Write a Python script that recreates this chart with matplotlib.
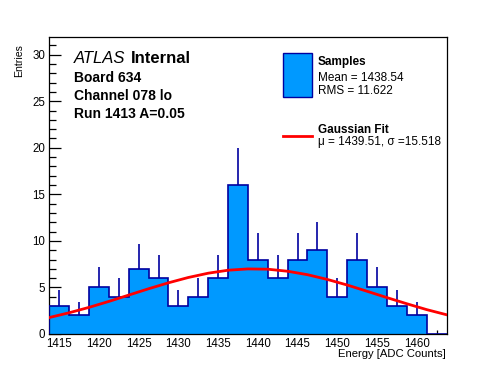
import numpy as np
import matplotlib.pyplot as plt
from matplotlib.patches import Rectangle
from matplotlib.lines import Line2D
from matplotlib.ticker import MultipleLocator

# histogram: 20 bins of 2.5 ADC counts
bin_edges = [1413.75 + 2.5 * i for i in range(21)]
counts = [3, 2, 5, 4, 7, 6, 3, 4, 6, 16, 8, 6, 8, 9, 4, 8, 5, 3, 2, 0]

# gaussian fit curve
fit_x = [1413.75, 1416.25, 1418.75, 1421.25, 1423.75, 1426.25, 1428.75,
         1431.25, 1433.75, 1436.25, 1438.75, 1441.25, 1443.75, 1446.25,
         1448.75, 1451.25, 1453.75, 1456.25, 1458.75, 1461.25, 1463.75]
fit_y = [1.77, 2.28, 2.86, 3.50, 4.18, 4.86, 5.50, 6.07, 6.53, 6.85, 6.99,
         6.96, 6.74, 6.37, 5.86, 5.26, 4.59, 3.91, 3.25, 2.62, 2.07]

x_ticks = [1415, 1420, 1425, 1430, 1435, 1440, 1445, 1450, 1455, 1460]
y_ticks = [0, 5, 10, 15, 20, 25, 30]

FILL = "#0099ff"
EDGE = "#0000a0"
RED = "#ff0000"

plt.rcParams["font.family"] = ["Liberation Sans", "DejaVu Sans"]

W, H = 496, 372
fig = plt.figure(figsize=(W / 100, H / 100), dpi=100)
ax = fig.add_axes([49.3 / W, 1 - 334 / H, (446.5 - 49.3) / W, (334 - 37) / H])

edges = np.array(bin_edges)
n = np.array(counts, dtype=float)
centers = edges[:-1] + 1.25
err = np.sqrt(n)
has = n > 0

ax.vlines(centers[has], (n - err)[has], (n + err)[has], color=EDGE, lw=1.2, zorder=1)
ax.stairs(n, edges, fill=True, facecolor=FILL, edgecolor="none", zorder=2)
ax.stairs(n, edges, baseline=0, fill=False, edgecolor=EDGE, lw=1.2, zorder=3)
ax.plot(fit_x, fit_y, color=RED, lw=2, zorder=4)

ax.set_xlim(1413.75, 1463.75)
ax.set_ylim(0, 31.9)
ax.set_xticks(x_ticks)
ax.set_yticks(y_ticks)
ax.xaxis.set_minor_locator(MultipleLocator(2.5))
ax.yaxis.set_minor_locator(MultipleLocator(1))
ax.tick_params(which="both", direction="in", top=False, right=False,
               labelsize=8.3, width=0.9)
ax.tick_params(axis="x", which="major", length=6.5, pad=3)
ax.tick_params(axis="x", which="minor", length=3.2)
ax.tick_params(axis="y", which="major", length=8.4, pad=3)
ax.tick_params(axis="y", which="minor", length=4.8)
for s in ax.spines.values():
    s.set_linewidth(0.9)

fig.text(446 / W, 1 - 357 / H, "Energy [ADC Counts]", ha="right",
         va="baseline", fontsize=8.1)
fig.text(19.5 / W, 1 - 44 / H, "Entries", rotation=90, ha="center", va="top",
         fontsize=7.6)

# ATLAS label block
t = fig.text(74 / W, 1 - 63 / H, "ATLAS", style="italic", fontsize=12,
             va="baseline")
fig.canvas.draw()
bb = t.get_window_extent()
fig.text((bb.x1 + 5) / W, 1 - 63 / H, "Internal", weight="bold",
         fontsize=12, va="baseline")
for yy, s in [(81.5, "Board 634"), (99.5, "Channel 078 lo"), (117.5, "Run 1413 A=0.05")]:
    fig.text(74 / W, 1 - yy / H, s, weight="bold", fontsize=10, va="baseline")

# legend
fig.add_artist(Rectangle((283.3 / W, 1 - 96.7 / H), 28.4 / W, 43.4 / H,
                         transform=fig.transFigure, facecolor=FILL,
                         edgecolor=EDGE, lw=1.0))
fig.add_artist(Line2D([283 / W, 311.5 / W], [1 - 136 / H, 1 - 136 / H],
                      transform=fig.transFigure, color=RED, lw=2))
fig.text(317.7 / W, 1 - 65 / H, "Samples", weight="bold", fontsize=8.5, va="baseline")
fig.text(317.7 / W, 1 - 80.7 / H, "Mean = 1438.54", fontsize=8.5, va="baseline")
fig.text(317.7 / W, 1 - 94.3 / H, "RMS = 11.622", fontsize=8.5, va="baseline")
fig.text(317.7 / W, 1 - 132.7 / H, "Gaussian Fit", weight="bold", fontsize=8.5, va="baseline")
fig.text(317.7 / W, 1 - 145 / H, "\u03bc = 1439.51, \u03c3 =15.518", fontsize=8.5,
         va="baseline")

fig.savefig("out.png", dpi=100)
